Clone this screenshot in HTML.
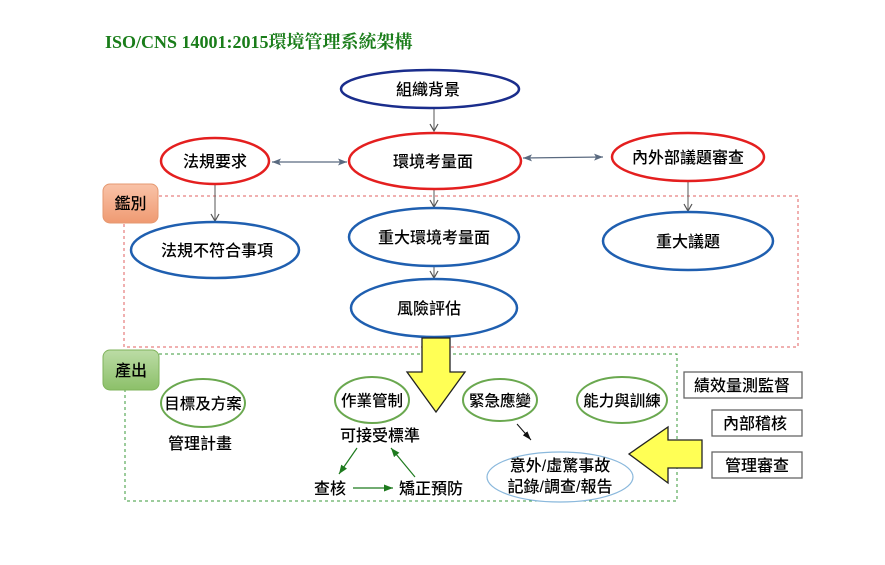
<!DOCTYPE html>
<html><head><meta charset="utf-8"><style>
html,body{margin:0;padding:0;background:#fff;}
svg{display:block;}
text{font-family:"Liberation Sans","Noto Sans CJK TC",sans-serif;fill:#000;font-weight:500;}
</style></head><body>
<svg width="885" height="565" viewBox="0 0 885 565" xmlns="http://www.w3.org/2000/svg">
<defs>
<linearGradient id="og" x1="0" y1="0" x2="0" y2="1"><stop offset="0" stop-color="#f9c3a8"/><stop offset="1" stop-color="#ef9a72"/></linearGradient>
<linearGradient id="gg" x1="0" y1="0" x2="0" y2="1"><stop offset="0" stop-color="#bcdca6"/><stop offset="1" stop-color="#8cc069"/></linearGradient>
<marker id="ao" markerWidth="10" markerHeight="10" refX="8" refY="5" orient="auto" markerUnits="userSpaceOnUse"><path d="M1,1 L8,5 L1,9" fill="none" stroke="#555" stroke-width="1.2"/></marker>
<marker id="af" markerWidth="10" markerHeight="10" refX="9" refY="5" orient="auto-start-reverse" markerUnits="userSpaceOnUse"><path d="M0,1.5 L9,5 L0,8.5 L2,5 Z" fill="#5a6a80"/></marker>
<marker id="ag" markerWidth="10" markerHeight="10" refX="9" refY="5" orient="auto" markerUnits="userSpaceOnUse"><path d="M0,1.5 L9,5 L0,8.5 Z" fill="#1e7a1e"/></marker>
<marker id="ak" markerWidth="10" markerHeight="10" refX="9" refY="5" orient="auto" markerUnits="userSpaceOnUse"><path d="M0,2 L9,5 L0,8 Z" fill="#111"/></marker>
</defs>

<!-- title -->
<text x="105" y="48" style="font-family:'Liberation Serif','Noto Serif CJK SC',serif;font-weight:bold;font-size:18px;fill:#1a7d1a;">ISO/CNS 14001:2015環境管理系統架構</text>

<!-- dashed frames -->
<path d="M159,196 L798,196 L798,347 L124,347 L124,223" fill="none" stroke="#e06060" stroke-width="1" stroke-dasharray="3,3"/>
<path d="M159,354 L677,354 L677,501 L125,501 L125,390" fill="none" stroke="#3a9a3a" stroke-width="1" stroke-dasharray="3,3"/>

<!-- labels -->
<rect x="103" y="184" width="55" height="39" rx="7" fill="url(#og)" stroke="#e59870" stroke-width="1"/>
<text x="130.5" y="209" text-anchor="middle" font-size="16">鑑別</text>
<rect x="103" y="350" width="56" height="40" rx="7" fill="url(#gg)" stroke="#7fb35b" stroke-width="1"/>
<text x="131" y="376" text-anchor="middle" font-size="16">產出</text>

<!-- connectors -->
<line x1="434" y1="109" x2="434" y2="131" stroke="#555" stroke-width="1" marker-end="url(#ao)"/>
<line x1="272" y1="162" x2="347" y2="162" stroke="#5a6a80" stroke-width="1.3" marker-end="url(#af)" marker-start="url(#af)"/>
<line x1="523" y1="158" x2="603" y2="157" stroke="#5a6a80" stroke-width="1.3" marker-end="url(#af)" marker-start="url(#af)"/>
<line x1="215" y1="183" x2="215" y2="221" stroke="#555" stroke-width="1" marker-end="url(#ao)"/>
<line x1="434" y1="190" x2="434" y2="207" stroke="#555" stroke-width="1" marker-end="url(#ao)"/>
<line x1="434" y1="267" x2="434" y2="278" stroke="#555" stroke-width="1" marker-end="url(#ao)"/>
<line x1="688" y1="181" x2="688" y2="211" stroke="#555" stroke-width="1" marker-end="url(#ao)"/>

<!-- top ellipses -->
<ellipse cx="430" cy="89" rx="89" ry="19" fill="#fff" stroke="#1a2d8c" stroke-width="2.5"/>
<text x="428" y="95" text-anchor="middle" font-size="16">組織背景</text>
<ellipse cx="435" cy="161" rx="86" ry="28" fill="#fff" stroke="#e41f1f" stroke-width="2.5"/>
<text x="433" y="167" text-anchor="middle" font-size="16">環境考量面</text>
<ellipse cx="215" cy="161" rx="54" ry="23" fill="#fff" stroke="#e41f1f" stroke-width="2.5"/>
<text x="215" y="167" text-anchor="middle" font-size="16">法規要求</text>
<ellipse cx="688" cy="157" rx="76" ry="24" fill="#fff" stroke="#e41f1f" stroke-width="2.5"/>
<text x="688" y="163" text-anchor="middle" font-size="16">內外部議題審查</text>

<!-- identification ellipses -->
<ellipse cx="215" cy="250" rx="84" ry="28" fill="#fff" stroke="#1f5fb0" stroke-width="2.5"/>
<text x="217" y="256" text-anchor="middle" font-size="16">法規不符合事項</text>
<ellipse cx="434" cy="237" rx="85" ry="29" fill="#fff" stroke="#1f5fb0" stroke-width="2.5"/>
<text x="434" y="243" text-anchor="middle" font-size="16">重大環境考量面</text>
<ellipse cx="434" cy="308" rx="83" ry="29" fill="#fff" stroke="#1f5fb0" stroke-width="2.5"/>
<text x="429" y="314" text-anchor="middle" font-size="16">風險評估</text>
<ellipse cx="688" cy="241" rx="85" ry="29" fill="#fff" stroke="#1f5fb0" stroke-width="2.5"/>
<text x="688" y="247" text-anchor="middle" font-size="16">重大議題</text>

<!-- yellow down arrow -->
<path d="M422,338 L450,338 L450,372 L465,372 L436,412 L407,372 L422,372 Z" fill="#ffff55" stroke="#222" stroke-width="1.3"/>

<!-- output ellipses -->
<ellipse cx="203" cy="403" rx="42" ry="24" fill="#fff" stroke="#6aa84f" stroke-width="2"/>
<text x="203" y="409" text-anchor="middle" font-size="15.5">目標及方案</text>
<text x="200" y="449" text-anchor="middle" font-size="16">管理計畫</text>

<ellipse cx="372" cy="400" rx="37" ry="23" fill="#fff" stroke="#6aa84f" stroke-width="2"/>
<text x="372" y="406" text-anchor="middle" font-size="15.5">作業管制</text>
<text x="380" y="441" text-anchor="middle" font-size="16">可接受標準</text>
<text x="330" y="494" text-anchor="middle" font-size="16">查核</text>
<text x="431" y="494" text-anchor="middle" font-size="16">矯正預防</text>
<line x1="357" y1="448" x2="339" y2="474" stroke="#1e7a1e" stroke-width="1.2" marker-end="url(#ag)"/>
<line x1="415" y1="477" x2="391" y2="448" stroke="#1e7a1e" stroke-width="1.2" marker-end="url(#ag)"/>
<line x1="353" y1="488" x2="393" y2="488" stroke="#1e7a1e" stroke-width="1.2" marker-end="url(#ag)"/>

<ellipse cx="500" cy="400" rx="37" ry="21" fill="#fff" stroke="#6aa84f" stroke-width="2"/>
<text x="500" y="406" text-anchor="middle" font-size="15.5">緊急應變</text>
<ellipse cx="622" cy="400" rx="45" ry="23" fill="#fff" stroke="#6aa84f" stroke-width="2"/>
<text x="622" y="406" text-anchor="middle" font-size="15.5">能力與訓練</text>

<line x1="517" y1="424" x2="531" y2="440" stroke="#111" stroke-width="1" marker-end="url(#ak)"/>
<ellipse cx="560" cy="477" rx="73" ry="25" fill="#fff" stroke="#8ab8dc" stroke-width="1.2"/>
<text x="560" y="471" text-anchor="middle" font-size="16">意外/虛驚事故</text>
<text x="560" y="492" text-anchor="middle" font-size="16">記錄/調查/報告</text>

<!-- yellow left arrow -->
<path d="M702,440 L702,468 L668,468 L668,483 L629,454 L668,427 L668,440 Z" fill="#ffff55" stroke="#222" stroke-width="1.3"/>

<!-- right boxes -->
<rect x="684" y="372" width="118" height="26" fill="#fff" stroke="#666" stroke-width="1.3"/>
<text x="742" y="391" text-anchor="middle" font-size="16">績效量測監督</text>
<rect x="712" y="410" width="90" height="26" fill="#fff" stroke="#666" stroke-width="1.3"/>
<text x="755" y="429" text-anchor="middle" font-size="16">內部稽核</text>
<rect x="712" y="452" width="90" height="26" fill="#fff" stroke="#666" stroke-width="1.3"/>
<text x="757" y="471" text-anchor="middle" font-size="16">管理審查</text>
</svg>
</body></html>
